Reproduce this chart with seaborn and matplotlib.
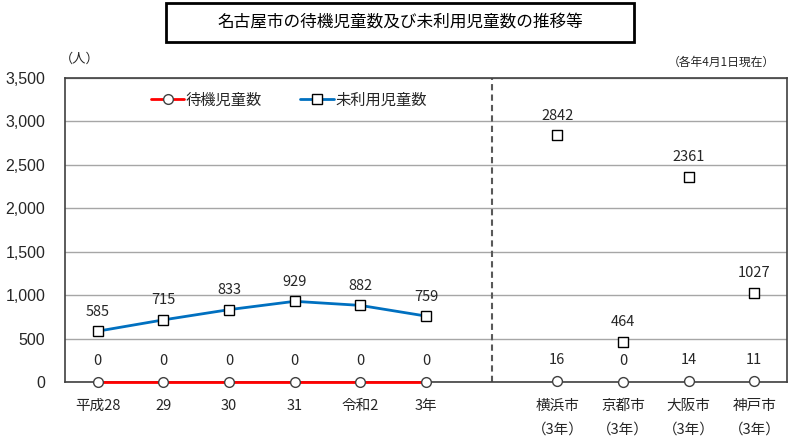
import numpy as np
import pandas as pd
import seaborn as sns
import matplotlib.pyplot as plt
from matplotlib.lines import Line2D
from matplotlib.patches import Rectangle

# Data
years = ['平成28', '29', '30', '31', '令和2', '3年']
cities = ['横浜市\n（3年）', '京都市\n（3年）', '大阪市\n（3年）', '神戸市\n（3年）']
waiting_nagoya = [0, 0, 0, 0, 0, 0]
unused_nagoya = [585, 715, 833, 929, 882, 759]
waiting_cities = [16, 0, 14, 11]
unused_cities = [2842, 464, 2361, 1027]

sns.set_theme(style='white')
plt.rcParams['font.family'] = ['Noto Sans CJK JP', 'DejaVu Sans']

# x slots: years, one empty slot for the divider, then cities
x_years = np.arange(len(years))
x_cities = np.arange(len(cities)) + len(years) + 1
divider = len(years)

df_years = pd.DataFrame({'x': x_years, 'waiting': waiting_nagoya, 'unused': unused_nagoya})
df_cities = pd.DataFrame({'x': x_cities, 'waiting': waiting_cities, 'unused': unused_cities})

fig = plt.figure(figsize=(8, 4.45), dpi=100)
ax = fig.add_axes([0.081, 0.1416, 0.903, 0.683])

red = '#ff0000'
blue = '#0070c0'
edge = '#404040'

sns.lineplot(data=df_years, x='x', y='waiting', ax=ax, color=red, linewidth=2,
             marker='o', markersize=7, markerfacecolor='white', markeredgecolor=edge,
             markeredgewidth=1, zorder=4, clip_on=False)
sns.lineplot(data=df_years, x='x', y='unused', ax=ax, color=blue, linewidth=2,
             marker='s', markersize=7, markerfacecolor='white', markeredgecolor='black',
             markeredgewidth=1, zorder=4)
sns.scatterplot(data=df_cities, x='x', y='waiting', ax=ax, marker='o', s=50,
                facecolor='white', edgecolor=edge, linewidth=1, zorder=4, clip_on=False)
sns.scatterplot(data=df_cities, x='x', y='unused', ax=ax, marker='s', s=50,
                facecolor='white', edgecolor='black', linewidth=1, zorder=4)

# data labels
for xs, ws, us in [(x_years, waiting_nagoya, unused_nagoya), (x_cities, waiting_cities, unused_cities)]:
    for x, w, u in zip(xs, ws, us):
        ax.annotate(str(w), (x, w), xytext=(0, 10), textcoords='offset points',
                    ha='center', va='bottom', fontsize=10.5, color='#262626')
        ax.annotate(str(u), (x, u), xytext=(0, 9), textcoords='offset points',
                    ha='center', va='bottom', fontsize=10.5, color='#262626')

ax.axvline(divider, color='#595959', linestyle=(0, (3, 2)), linewidth=1.5, zorder=1)

ax.set_xlim(-0.5, len(years) + len(cities) + 0.5)
ax.set_ylim(0, 3500)
ax.set_yticks(np.arange(0, 3501, 500))
ax.yaxis.set_major_formatter(plt.FuncFormatter(lambda v, p: f'{int(v):,}'))
ax.grid(axis='y', color='#a6a6a6', linewidth=1)
ax.set_axisbelow(True)

ax.set_xticks(list(x_years) + list(x_cities))
ax.set_xticklabels(years + cities, linespacing=1.9, va='top')
ax.tick_params(axis='x', length=0, pad=12, labelsize=10.5, colors='#262626')
ax.tick_params(axis='y', length=0, pad=14, labelsize=11.5, colors='#262626')
for lab in ax.get_yticklabels():
    lab.set_fontfamily(['Liberation Sans', 'DejaVu Sans'])
ax.set_xlabel('')
ax.set_ylabel('')

for s in ax.spines.values():
    s.set_color('#404040')
    s.set_linewidth(1.2)

# legend
handles = [
    Line2D([], [], color=red, linewidth=2, marker='o', markersize=7,
           markerfacecolor='white', markeredgecolor=edge),
    Line2D([], [], color=blue, linewidth=2, marker='s', markersize=7,
           markerfacecolor='white', markeredgecolor='black'),
]
ax.legend(handles, ['待機児童数', '未利用児童数'], ncol=2, frameon=False,
          loc='upper left', bbox_to_anchor=(0.1, 1.0), fontsize=11,
          handlelength=2.2, handletextpad=0.1, columnspacing=2.5)

# title box and notes
fig.text(0.5, 0.95, '名古屋市の待機児童数及び未利用児童数の推移等', ha='center', va='center',
         fontsize=12, color='black')
fig.patches.append(Rectangle((0.207, 0.906), 0.585, 0.088, transform=fig.transFigure,
                             fill=False, edgecolor='black', linewidth=2))
fig.text(0.1, 0.868, '（人）', ha='center', va='center', fontsize=9.5, color='#262626')
fig.text(0.968, 0.86, '（各年4月1日現在）', ha='right', va='center', fontsize=8.5, color='#262626')

fig.savefig('out.png', dpi=100)
